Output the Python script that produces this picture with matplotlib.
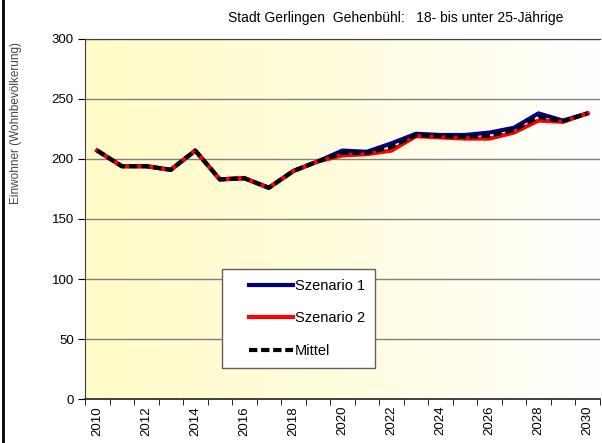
import numpy as np
import matplotlib
matplotlib.use("Agg")
import matplotlib.pyplot as plt
from matplotlib.lines import Line2D
from matplotlib.legend_handler import HandlerLine2D

plt.rcParams['font.family'] = ['Liberation Sans', 'DejaVu Sans']

years = list(range(2010, 2031))
szenario1 = [207, 194, 194, 191, 207, 183, 184, 176, 190, 198, 207, 206, 213, 221, 220, 220, 222, 226, 238, 232, 238]
szenario2 = [207, 194, 194, 191, 207, 183, 184, 176, 190, 198, 203, 204, 207, 219, 218, 217, 217, 222, 232, 231, 238]
mittel = [(a + b) / 2 for a, b in zip(szenario1, szenario2)]
year_labels = [str(y) for y in years if y % 2 == 0]


class ShiftedHandler(HandlerLine2D):
    # leaves some empty room left of the legend line
    def create_artists(self, legend, orig_handle, xdescent, ydescent, width, height, fontsize, trans):
        shift = 12
        return super().create_artists(legend, orig_handle, xdescent - shift, ydescent,
                                      width - shift, height, fontsize, trans)


fig = plt.figure(figsize=(6.02, 4.43), dpi=100)
ax = fig.add_axes([0.1412, 0.0993, 0.855, 0.8127])

# yellow -> white gradient behind the plot
grad = np.linspace(0, 1, 256) ** 1.3
c0 = np.array([255, 251, 200]) / 255
c1 = np.array([255, 255, 255]) / 255
img = c0[None, :] + (c1 - c0)[None, :] * grad[:, None]
ax.imshow(img[None, :, :], extent=[2009.5, 2030.5, 0, 300], aspect='auto', zorder=0)

for v in range(50, 301, 50):
    ax.axhline(v, color='#808080', lw=1, zorder=1)

ax.plot(years, szenario1, color='#000080', lw=3, zorder=3)
ax.plot(years, szenario2, color='#ff0000', lw=3, zorder=4)
ax.plot(years, mittel, color='black', lw=3, ls=(0, (2, 0.9)), zorder=5)

ax.set_xlim(2009.5, 2030.5)
ax.set_ylim(0, 300)
ax.set_yticks(range(0, 301, 50))
ax.tick_params(axis='y', direction='out', length=5, labelsize=9.5, pad=3)
ax.set_xticks([y for y in years if y % 2 == 0])
ax.set_xticklabels(year_labels, rotation=90, fontsize=9.5)
ax.set_xticks(np.arange(2009.5, 2031, 1), minor=True)
ax.tick_params(axis='x', which='major', length=0, pad=5)
ax.tick_params(axis='x', which='minor', direction='out', length=4)

ax.spines['right'].set_visible(False)
ax.spines['top'].set_color('#404040')
ax.spines['left'].set_color('#404040')
ax.spines['bottom'].set_color('#202020')
ax.spines['bottom'].set_linewidth(1.2)

handles = [
    Line2D([], [], color='#000080', lw=3),
    Line2D([], [], color='#ff0000', lw=3),
    Line2D([], [], color='black', lw=3, ls=(0, (2, 0.9))),
]
leg = ax.legend(handles, ['Szenario 1', 'Szenario 2', 'Mittel'], loc='upper left',
                bbox_to_anchor=(0.266, 0.361), fontsize=10.5, handlelength=4.2,
                handletextpad=0.1, labelspacing=1.25, borderpad=0.7,
                fancybox=False, framealpha=1, edgecolor='#606060', borderaxespad=0,
                handler_map={Line2D: ShiftedHandler()})
leg.get_frame().set_linewidth(1)

fig.text(0.658, 0.959, 'Stadt Gerlingen  Gehenbühl:   18- bis unter 25-Jährige',
         ha='center', va='center', fontsize=10)
fig.text(0.027, 0.722, 'Einwohner (Wohnbevölkerung)', rotation=90,
         ha='center', va='center', fontsize=8.5, color='#444444')

fig.add_artist(Line2D([0.005, 0.005], [0, 1], transform=fig.transFigure, color='black', lw=2))

fig.savefig('out.png', dpi=100)
